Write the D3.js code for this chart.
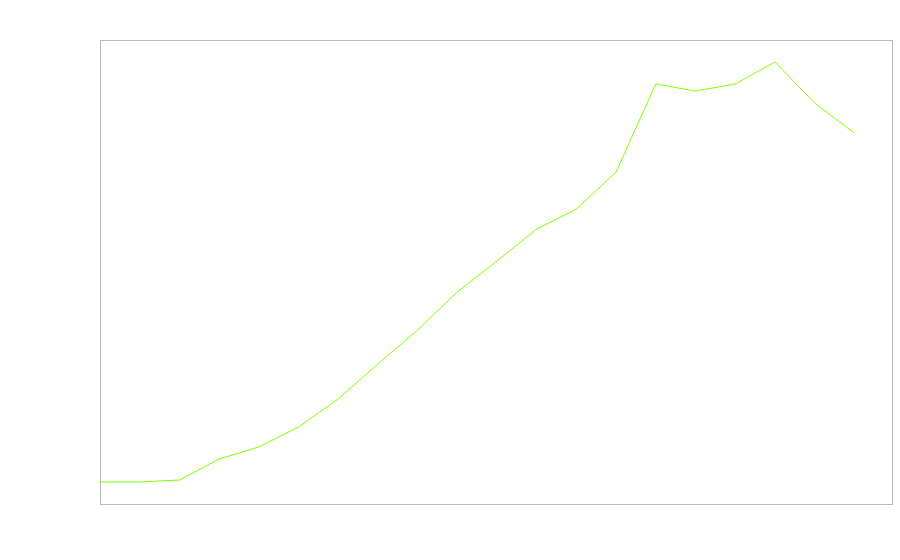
<!DOCTYPE html>
<html>
<head>
<meta charset="utf-8">
<script src="https://cdn.jsdelivr.net/npm/d3@7"></script>
<style>
  body { margin: 0; background: #fff; }
</style>
</head>
<body>
<div class="chart"></div>
<script>
// series (arbitrary units, 0 = bottom of the frame)
let periods = d3.range(20);
let values = [22, 22, 24, 45, 57, 77, 105, 140, 174, 212, 243, 275, 295, 332, 420, 413, 420, 442, 401, 371];
let yMax = 464;
let xMax = 19.95;

let width = 900, height = 560;
let margins = {top: 40, right: 8, bottom: 56, left: 100};
let innerW = width - margins.left - margins.right,
    innerH = height - margins.top - margins.bottom;

let svg = d3.select('.chart').append('svg')
    .attr('width', width)
    .attr('height', height);

let chartLayer = svg.append('g')
    .attr('transform', 'translate(' + margins.left + ',' + margins.top + ')');

let x = d3.scaleLinear().domain([0, xMax]).range([0, innerW]);
let y = d3.scaleLinear().domain([0, yMax]).range([innerH, 0]);

// frame
chartLayer.append('rect')
    .attr('x', 0.5)
    .attr('y', 0.5)
    .attr('width', innerW)
    .attr('height', innerH)
    .attr('fill', 'none')
    .attr('stroke', '#bbbbbb')
    .attr('stroke-width', 1);

let line = d3.line()
    .x(function(d, i) { return x(periods[i]); })
    .y(function(d) { return y(d); });

chartLayer.append('path')
    .datum(values)
    .attr('fill', 'none')
    .attr('stroke', '#7fff00')
    .attr('stroke-width', 1)
    .attr('d', line);
</script>
</body>
</html>
